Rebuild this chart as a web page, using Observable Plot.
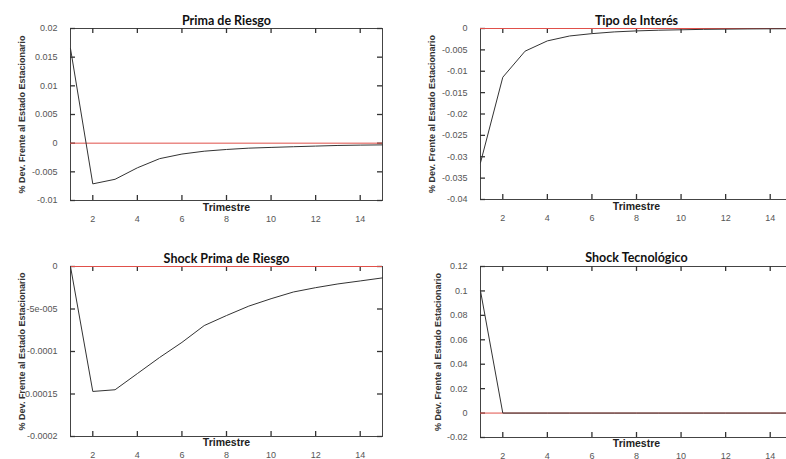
<!DOCTYPE html>
<html>
<head>
<meta charset="utf-8">
<script src="https://cdn.jsdelivr.net/npm/d3@7"></script>
<script src="https://cdn.jsdelivr.net/npm/@observablehq/plot@0.6"></script>
<style>
  body { margin: 0; background: #fff; }
  #fig { position: relative; width: 786px; height: 459px; overflow: hidden; background: #fff; }
  .panel { position: absolute; }
  .panel svg { max-width: none !important; }
</style>
</head>
<body>
<div id="fig"></div>
<script>
// ---- data ----
const trimestre = [1, 2, 3, 4, 5, 6, 7, 8, 9, 10, 11, 12, 13, 14, 15];
const primaRiesgo = [0.0165, -0.0071, -0.0063, -0.0043, -0.0027, -0.0019, -0.0014, -0.0011, -0.00087, -0.00074, -0.00062, -0.00051, -0.0004, -0.00034, -0.0003];
const tipoInteres = [-0.0314, -0.0114, -0.0053, -0.0029, -0.00175, -0.0012, -0.0008, -0.00056, -0.0004, -0.0003, -0.0002, -0.00015, -0.0001, -0.00007, -0.00005];
const shockPrima = [0, -0.000147, -0.000145, -0.000126, -0.000107, -0.0000893, -0.0000695, -0.0000577, -0.0000466, -0.0000379, -0.00003, -0.0000249, -0.0000205, -0.000017, -0.0000134];
const shockTecno = [0.1, 0, 0, 0, 0, 0, 0, 0, 0, 0, 0, 0, 0, 0, 0];

const titles = ["Prima de Riesgo", "Tipo de Interés", "Shock Prima de Riesgo", "Shock Tecnológico"];
const xLabel = "Trimestre";
const yLabel = "% Dev. Frente al Estado Estacionario";
const xTicks = [2, 4, 6, 8, 10, 12, 14];

const yTicks1 = [0.02, 0.015, 0.01, 0.005, 0, -0.005, -0.01];
const yLabels1 = ["0.02", "0.015", "0.01", "0.005", "0", "-0.005", "-0.01"];
const yTicks2 = [0, -0.005, -0.01, -0.015, -0.02, -0.025, -0.03, -0.035, -0.04];
const yLabels2 = ["0", "-0.005", "-0.01", "-0.015", "-0.02", "-0.025", "-0.03", "-0.035", "-0.04"];
const yTicks3 = [0, -0.00005, -0.0001, -0.00015, -0.0002];
const yLabels3 = ["0", "-5e-005", "-0.0001", "0.00015", "-0.0002"];
const yTicks4 = [0.12, 0.1, 0.08, 0.06, 0.04, 0.02, 0, -0.02];
const yLabels4 = ["0.12", "0.1", "0.08", "0.06", "0.04", "0.02", "0", "-0.02"];

// ---- drawing ----
const fig = document.getElementById("fig");
const SANS = "'Liberation Sans', Arial, sans-serif";
const TITLEFONT = "Lato, 'Open Sans', sans-serif";
const TL = 5; // inward tick length

function panel({left, top, width, height, mL, mR, mT, mB, values, yTicks, yLabels, title, titleDy, xlabDy, ylabDx}) {
  const data = trimestre.map((t, i) => ({t, v: values[i]}));
  const fmt = new Map(yTicks.map((d, i) => [d, yLabels[i]]));
  const yDomain = [d3.min(yTicks), d3.max(yTicks)];
  const pw = width - mL - mR;   // inner plot width (px)
  const ph = height - mT - mB;  // inner plot height (px)
  const tk = {stroke: "#333", strokeWidth: 1.3};
  const chart = Plot.plot({
    width, height,
    marginLeft: mL, marginRight: mR, marginTop: mT, marginBottom: mB,
    style: {background: "white", fontFamily: SANS, overflow: "visible"},
    x: {domain: [1, 15]},
    y: {domain: yDomain},
    marks: [
      Plot.frame({stroke: "#444", strokeWidth: 1}),
      // inward ticks on all four sides
      Plot.tickX(xTicks, {x: d => d, insetTop: ph - TL, ...tk}),
      Plot.tickX(xTicks, {x: d => d, insetBottom: ph - TL, ...tk}),
      Plot.tickY(yTicks, {y: d => d, insetRight: pw - TL, ...tk}),
      Plot.tickY(yTicks, {y: d => d, insetLeft: pw - TL, ...tk}),
      // tick labels
      Plot.axisX({anchor: "bottom", ticks: xTicks, tickSize: 0, tickPadding: 15, fontSize: 9, fontFamily: SANS, color: "#555", label: null}),
      Plot.axisY({anchor: "left", ticks: yTicks, tickSize: 0, tickPadding: 13, tickFormat: d => fmt.get(d), fontSize: 9, fontFamily: SANS, color: "#555", label: null}),
      Plot.ruleY([0], {stroke: "#e0504a", strokeWidth: 1}),
      Plot.line(data, {x: "t", y: "v", stroke: "#333", strokeWidth: 1}),
      Plot.text([title], {frameAnchor: "top", dy: titleDy, text: d => d, fontFamily: TITLEFONT, fontWeight: "bold", fontSize: 12.5, fill: "#111", lineAnchor: "middle", textAnchor: "middle"}),
      Plot.text([xLabel], {frameAnchor: "bottom", dy: xlabDy, text: d => d, fontFamily: SANS, fontWeight: "bold", fontSize: 10.5, fill: "#222", lineAnchor: "middle", textAnchor: "middle"}),
      Plot.text([yLabel], {frameAnchor: "left", dx: ylabDx, rotate: -90, text: d => d, fontFamily: SANS, fontWeight: "bold", fontSize: 9, fill: "#333", lineAnchor: "middle", textAnchor: "middle"})
    ]
  });
  const div = document.createElement("div");
  div.className = "panel";
  div.style.left = left + "px";
  div.style.top = top + "px";
  div.style.width = width + "px";
  div.style.height = height + "px";
  div.appendChild(chart);
  fig.appendChild(div);
}

panel({left: 0, top: 0, width: 400, height: 230, mL: 70, mR: 18, mT: 28, mB: 30,
  values: primaRiesgo, yTicks: yTicks1, yLabels: yLabels1, title: titles[0], titleDy: -8, xlabDy: 7, ylabDx: -48});
panel({left: 390, top: 0, width: 410, height: 230, mL: 90, mR: 8, mT: 28, mB: 31,
  values: tipoInteres, yTicks: yTicks2, yLabels: yLabels2, title: titles[1], titleDy: -8, xlabDy: 7, ylabDx: -48});
panel({left: 0, top: 230, width: 400, height: 230, mL: 70, mR: 18, mT: 36, mB: 24,
  values: shockPrima, yTicks: yTicks3, yLabels: yLabels3, title: titles[2], titleDy: -8, xlabDy: 6, ylabDx: -48});
panel({left: 390, top: 230, width: 410, height: 230, mL: 90, mR: 8, mT: 36, mB: 23,
  values: shockTecno, yTicks: yTicks4, yLabels: yLabels4, title: titles[3], titleDy: -9, xlabDy: 6, ylabDx: -42});
</script>
</body>
</html>
